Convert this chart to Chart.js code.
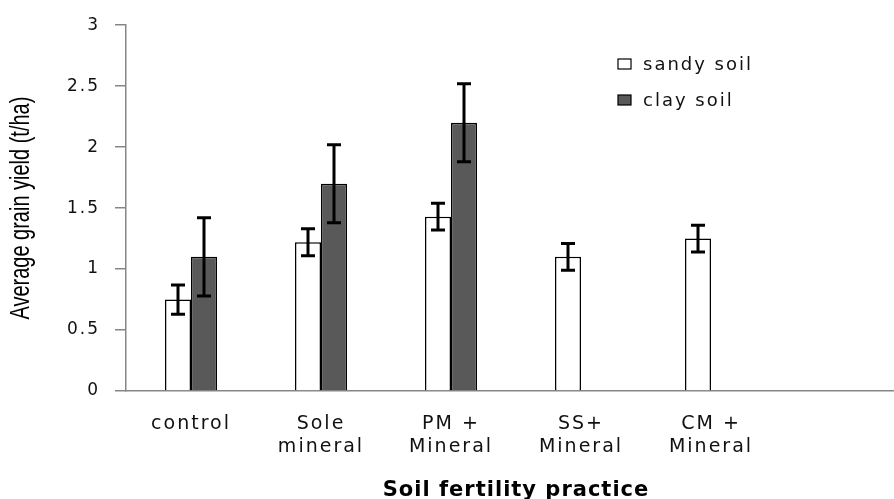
<!DOCTYPE html>
<html>
<head>
<meta charset="utf-8">
<script src="https://cdn.jsdelivr.net/npm/chart.js@4/dist/chart.umd.min.js"></script>
<style>
  html, body { margin: 0; padding: 0; background: #fff; overflow: hidden; }
  #wrap { width: 894px; height: 499px; overflow: hidden; }
</style>
</head>
<body>
<div id="wrap"><canvas id="chart" width="910" height="499"></canvas></div>
<script>
// categories (the last, empty one keeps the Excel spacing)
const categories = [['control'], ['Sole', 'mineral'], ['PM +', 'Mineral'], ['SS+', 'Mineral'], ['CM +', 'Mineral'], ''];
const sandySoil = [0.75, 1.22, 1.43, 1.10, 1.25, null];
const claySoil = [1.10, 1.70, 2.20, null, null, null];
const sandyErr = [0.12, 0.11, 0.11, 0.11, 0.11, null];
const clayErr = [0.32, 0.32, 0.32, null, null, null];
const yMin = 0, yMax = 3, yStep = 0.5;

const GREY = '#868686';

// error bars + legend + axis titles
const extras = {
  id: 'extras',
  beforeDraw(chart) {
    chart.ctx.letterSpacing = '2px';
  },
  afterDatasetsDraw(chart) {
    const ctx = chart.ctx;
    const y = chart.scales.y;
    const errs = [sandyErr, clayErr];
    ctx.save();
    ctx.strokeStyle = '#000';
    ctx.lineWidth = 3;
    chart.data.datasets.forEach((ds, di) => {
      const meta = chart.getDatasetMeta(di);
      ds.data.forEach((v, i) => {
        const e = errs[di][i];
        if (v == null || e == null) return;
        const x = meta.data[i].x;
        const top = y.getPixelForValue(v + e);
        const bot = y.getPixelForValue(v - e);
        ctx.beginPath();
        ctx.moveTo(x, top); ctx.lineTo(x, bot);
        ctx.moveTo(x - 7, top); ctx.lineTo(x + 7, top);
        ctx.moveTo(x - 7, bot); ctx.lineTo(x + 7, bot);
        ctx.stroke();
      });
    });
    ctx.restore();
  },
  afterDraw(chart) {
    const ctx = chart.ctx;
    const area = chart.chartArea;
    ctx.save();
    // legend
    ctx.letterSpacing = '2px';
    ctx.font = '18px "DejaVu Sans"';
    ctx.textBaseline = 'middle';
    ctx.textAlign = 'left';
    chart.data.datasets.forEach((ds, i) => {
      const ly = 64 + i * 36;
      ctx.fillStyle = ds.backgroundColor;
      ctx.fillRect(618, ly - 5, 13, 10);
      ctx.strokeStyle = '#000';
      ctx.lineWidth = 1.2;
      ctx.strokeRect(618, ly - 5, 13, 10);
      ctx.fillStyle = '#111';
      ctx.fillText(ds.label, 643, ly + 1);
    });
    // axis titles
    ctx.letterSpacing = '1px';
    ctx.fillStyle = '#000';
    ctx.textAlign = 'center';
    ctx.font = 'bold 21px "DejaVu Sans"';
    ctx.fillText('Soil fertility practice', (area.left + area.right) / 2, 491);
    ctx.letterSpacing = '0px';
    ctx.translate(22, (area.top + area.bottom) / 2);
    ctx.rotate(-Math.PI / 2);
    ctx.scale(0.74, 1);
    ctx.font = '27px "Liberation Sans"';
    ctx.fillText('Average grain yield (t/ha)', 0, 0);
    ctx.restore();
  }
};

const ctx = document.getElementById('chart').getContext('2d');
const chart = new Chart(ctx, {
  type: 'bar',
  data: {
    labels: categories,
    datasets: [{
      label: 'sandy soil',
      data: sandySoil,
      backgroundColor: '#ffffff',
      borderColor: '#000000',
      borderWidth: 1.5
    }, {
      label: 'clay soil',
      data: claySoil,
      backgroundColor: '#595959',
      borderColor: '#000000',
      borderWidth: 1.5
    }]
  },
  options: {
    responsive: false,
    animation: false,
    devicePixelRatio: 1,
    layout: { padding: { top: 22, right: 4, left: 0, bottom: 0 } },
    datasets: { bar: { categoryPercentage: 0.4, barPercentage: 1.0 } },
    plugins: {
      legend: { display: false },
      tooltip: { enabled: false }
    },
    scales: {
      x: {
        grid: { display: false, drawTicks: false },
        border: { display: true, color: GREY, width: 1.5 },
        ticks: {
          color: '#111',
          padding: 22,
          maxRotation: 0,
          autoSkip: false,
          font: { family: 'DejaVu Sans', size: 19, lineHeight: 1.2 }
        },
        afterFit(s) { s.height = 108; }
      },
      y: {
        min: yMin,
        max: yMax,
        grid: { display: true, drawOnChartArea: false, drawTicks: true, tickLength: 11, color: GREY, lineWidth: 1.5 },
        border: { display: true, color: GREY, width: 1.5 },
        ticks: {
          stepSize: yStep,
          color: '#111',
          padding: 15,
          font: { family: 'DejaVu Sans', size: 17 },
          callback: v => String(v)
        },
        afterFit(s) { s.width = 126; }
      }
    }
  },
  plugins: [extras]
});
</script>
</body>
</html>
